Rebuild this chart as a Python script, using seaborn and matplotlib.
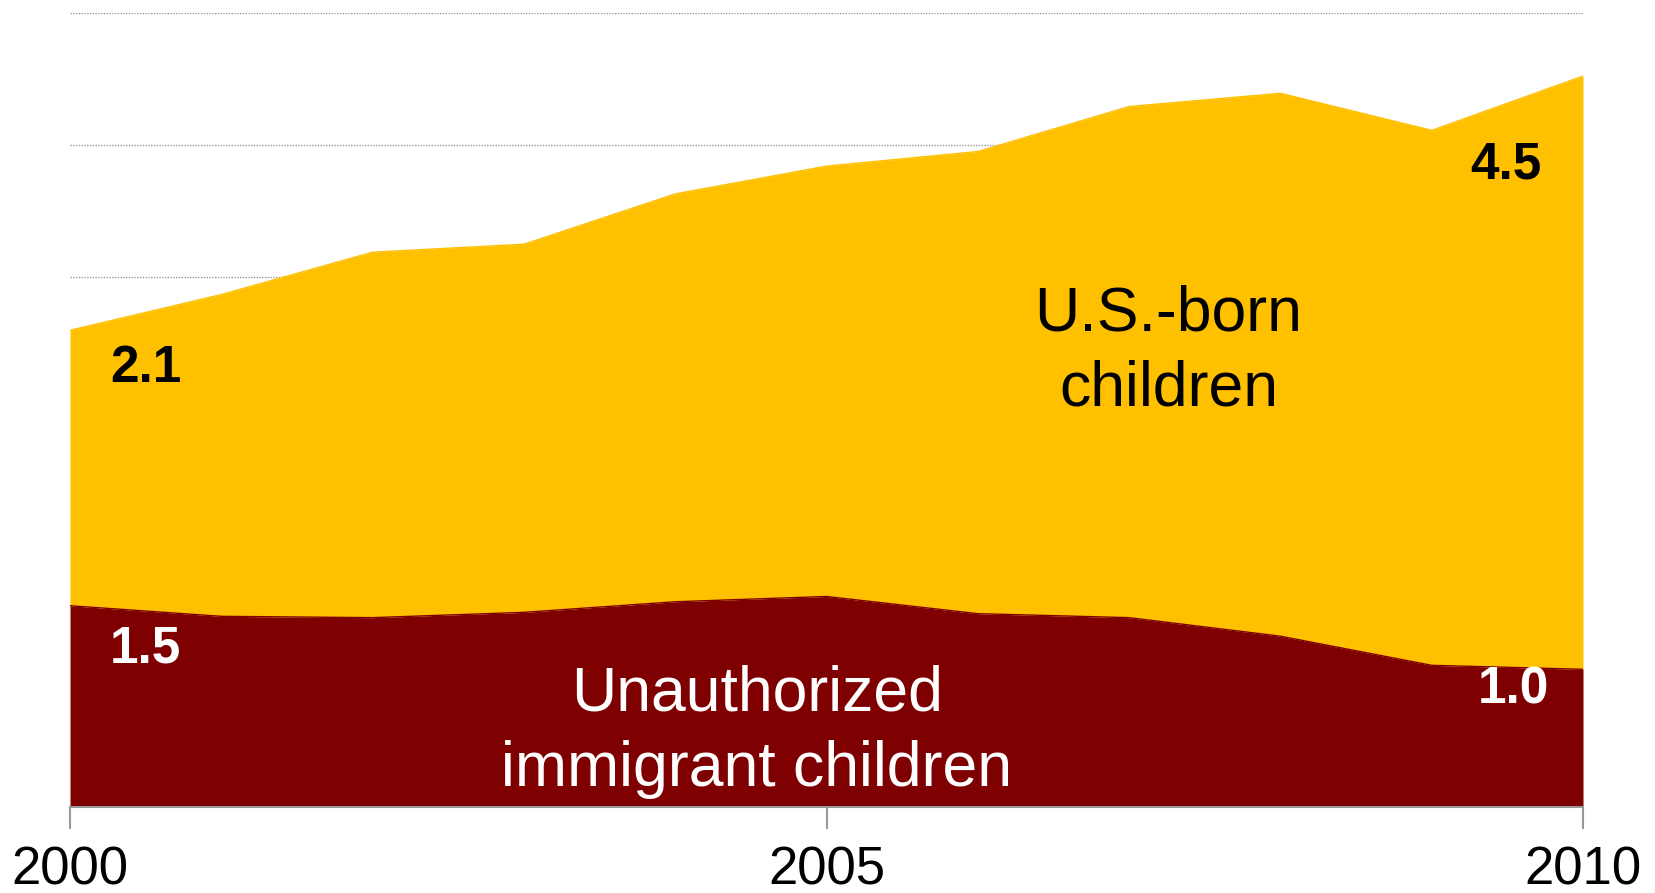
import numpy as np
import pandas as pd
import seaborn as sns
import matplotlib.pyplot as plt

# Datos (millones de niños)
years = [2000, 2001, 2002, 2003, 2004, 2005, 2006, 2007, 2008, 2009, 2010]
unauthorized = [1.52, 1.44, 1.43, 1.47, 1.55, 1.59, 1.46, 1.43, 1.29, 1.07, 1.04]
us_born = [2.08, 2.43, 2.76, 2.78, 3.08, 3.25, 3.49, 3.86, 4.10, 4.04, 4.48]
tick_years = [2000, 2005, 2010]

col_unauth = '#7F0000'
col_usborn = '#FFC000'

df = pd.DataFrame({'year': years, 'unauthorized': unauthorized, 'us_born': us_born})
df['total'] = df['unauthorized'] + df['us_born']

sns.set_style('white')
plt.rcParams['font.family'] = ['Liberation Sans', 'DejaVu Sans']

fig = plt.figure(figsize=(16.55, 8.93), dpi=100)
ax = fig.add_axes([0.0423, 0.0963, 0.9142, 0.8897])

# Áreas apiladas
ax.fill_between(df['year'], 0, df['unauthorized'], color=col_unauth, lw=0, zorder=2)
ax.fill_between(df['year'], df['unauthorized'], df['total'], color=col_usborn, lw=0, zorder=2)
sns.lineplot(data=df, x='year', y='unauthorized', color=col_unauth, lw=1, ax=ax, zorder=3)
sns.lineplot(data=df, x='year', y='total', color=col_usborn, lw=1, ax=ax, zorder=3)

ax.set_xlim(2000, 2010)
ax.set_ylim(0, 6)

# Líneas de referencia punteadas
for yv in [4, 5, 6]:
    ax.axhline(yv, color='#999999', lw=1, ls=(0, (1, 1)), zorder=1)

ax.set_xticks(tick_years)
ax.set_xticklabels([str(t) for t in tick_years], fontsize=38, color='black')
ax.set_yticks([])
ax.set_xlabel('')
ax.set_ylabel('')
ax.tick_params(axis='x', direction='out', length=16, width=1.5, color='#999999', pad=12, bottom=True)

for s in ['top', 'left', 'right']:
    ax.spines[s].set_visible(False)
ax.spines['bottom'].set_color('#999999')
ax.spines['bottom'].set_linewidth(1.5)
ax.spines['bottom'].set_zorder(4)

# Etiquetas de valores
ax.text(2000.5, 3.31, '2.1', fontsize=37, fontweight='bold', color='black', ha='center', va='center', zorder=5)
ax.text(2000.5, 1.19, '1.5', fontsize=37, fontweight='bold', color='white', ha='center', va='center', zorder=5)
ax.text(2009.49, 4.85, '4.5', fontsize=37, fontweight='bold', color='black', ha='center', va='center', zorder=5)
ax.text(2009.54, 0.88, '1.0', fontsize=37, fontweight='bold', color='white', ha='center', va='center', zorder=5)

ax.text(2007.26, 3.44, 'U.S.-born\nchildren', fontsize=45, color='black', ha='center', va='center',
        linespacing=1.35, zorder=5)
ax.text(2004.54, 0.57, 'Unauthorized\nimmigrant children', fontsize=45, color='white', ha='center', va='center',
        linespacing=1.35, zorder=5)

fig.savefig('out.png', dpi=100)
